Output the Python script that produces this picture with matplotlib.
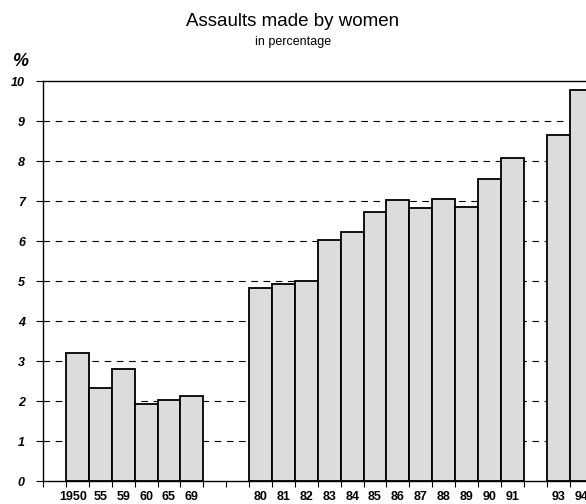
import matplotlib
matplotlib.use('Agg')
import matplotlib.pyplot as plt
import matplotlib.transforms as mtransforms
import numpy as np

plt.rcParams['font.family'] = ['Liberation Sans', 'DejaVu Sans']

# Year labels, with empty slots where the original chart leaves a gap
years = ['', '1950', '55', '59', '60', '65', '69', '', '',
         '80', '81', '82', '83', '84', '85', '86', '87', '88', '89', '90', '91',
         '', '93', '94']
# share of assaults made by women, % (nan = no bar)
share = [np.nan, 3.21, 2.33, 2.81, 1.92, 2.02, 2.13, np.nan, np.nan,
         4.82, 4.92, 5.01, 6.03, 6.23, 6.73, 7.03, 6.83, 7.04, 6.85, 7.56, 8.07,
         np.nan, 8.65, 9.78]

x = np.arange(len(years))

fig = plt.figure(figsize=(5.86, 5.04), dpi=100)
ax = fig.add_axes([43 / 586, 23 / 504, 549.6 / 586, 400 / 504])

# dashed grid behind the bars
for v in range(1, 10):
    ax.axhline(v, color='black', lw=0.8, ls=(0, (6, 5)), zorder=1)

ax.bar(x, share, width=1.0, color='#dcdcdc', edgecolor='black', lw=1.3, zorder=2)

ax.set_xlim(-0.5, len(years) - 0.5)
ax.set_ylim(0, 10)

ax.spines['right'].set_visible(False)
for s in ['top', 'left', 'bottom']:
    ax.spines[s].set_linewidth(1.0)

ax.set_yticks(range(0, 11))
ax.set_yticklabels([str(v) for v in range(0, 11)], fontsize=9,
                   fontweight='bold', fontstyle='italic')
ax.tick_params(axis='y', length=5, width=0.8, pad=8)

ax.set_xticks(x)
ax.set_xticklabels(years, fontsize=9, fontweight='bold')
ax.set_xticks(np.arange(-0.5, len(years)), minor=True)
ax.tick_params(axis='x', which='major', length=0, pad=7)
ax.tick_params(axis='x', which='minor', length=4, width=0.8)

# the first year label sits a little to the left in the original
lbl = ax.get_xticklabels()[1]
lbl.set_transform(lbl.get_transform() +
                  mtransforms.ScaledTranslation(-4 / 100, 0, fig.dpi_scale_trans))

fig.text(0.5, 1 - 22 / 504, 'Assaults made by women', ha='center', va='center',
         fontsize=13.5)
fig.text(0.5, 1 - 42 / 504, 'in percentage', ha='center', va='center',
         fontsize=9)
fig.text(12 / 586, 1 - 61 / 504, '%', ha='left', va='center', fontsize=13,
         fontweight='bold', fontstyle='italic')

fig.savefig('out.png', dpi=100)
